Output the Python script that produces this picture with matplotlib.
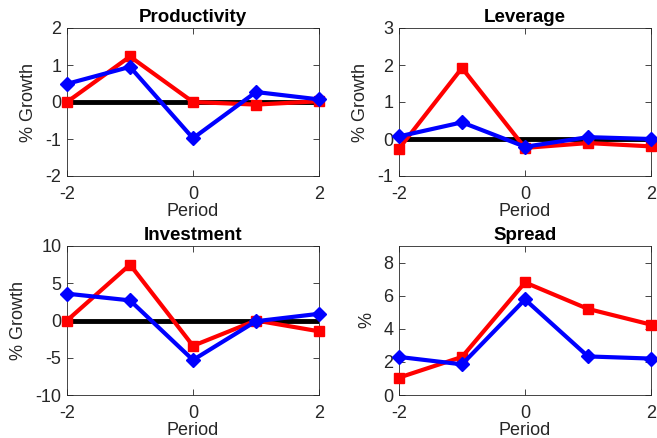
import matplotlib
matplotlib.use('Agg')
import matplotlib.pyplot as plt
import numpy as np

plt.rcParams['font.family'] = ['Liberation Sans', 'DejaVu Sans']
plt.rcParams['axes.unicode_minus'] = False

period = [-2, -1, 0, 1, 2]

titles = ['Productivity', 'Leverage', 'Investment', 'Spread']
ylabels = ['% Growth', '% Growth', '% Growth', '%']

red_prod = [0.0, 1.23, 0.0, -0.07, 0.02]
blue_prod = [0.49, 0.95, -0.98, 0.27, 0.07]

red_lev = [-0.26, 1.92, -0.24, -0.11, -0.2]
blue_lev = [0.07, 0.45, -0.21, 0.05, 0.0]

red_inv = [0.0, 7.5, -3.4, 0.0, -1.45]
blue_inv = [3.6, 2.7, -5.3, -0.1, 0.9]

red_spr = [1.05, 2.3, 6.8, 5.2, 4.25]
blue_spr = [2.3, 1.85, 5.77, 2.33, 2.2]

red_list = [red_prod, red_lev, red_inv, red_spr]
blue_list = [blue_prod, blue_lev, blue_inv, blue_spr]

ylims = [(-2, 2), (-1, 3), (-10, 10), (0, 9)]
yticks = [[-2, -1, 0, 1, 2], [-1, 0, 1, 2, 3], [-10, -5, 0, 5, 10], [0, 2, 4, 6, 8]]
zero_line = [True, True, True, False]

W, H = 657, 438
fig = plt.figure(figsize=(W / 100, H / 100), dpi=100)

# axes boxes in pixels: left, top, right, bottom
boxes = [(67, 28, 319, 176), (399, 28, 651, 176),
         (67, 246, 319, 395), (399, 246, 651, 395)]

axcol = '#262626'

for i in range(4):
    l, t, r, b = boxes[i]
    ax = fig.add_axes([l / W, 1 - b / H, (r - l) / W, (b - t) / H])

    if zero_line[i]:
        ax.plot([-2, 2], [0, 0], color='k', lw=3.5, zorder=2)
    ax.plot(period, red_list[i], '-s', color='#ff0000', lw=3, ms=7, zorder=3,
            clip_on=False)
    ax.plot(period, blue_list[i], '-D', color='#0000ff', lw=3, ms=7, zorder=4,
            clip_on=False)

    ax.set_xlim(-2, 2)
    ax.set_ylim(*ylims[i])
    ax.set_xticks([-2, 0, 2])
    ax.set_yticks(yticks[i])
    ax.tick_params(direction='in', top=True, right=True, length=4, width=0.6,
                   labelsize=13, colors=axcol)
    ax.tick_params(axis='x', pad=7)
    ax.tick_params(axis='y', pad=4)
    for sp in ax.spines.values():
        sp.set_color(axcol)
        sp.set_linewidth(0.6)

    ax.set_title(titles[i], fontsize=13.5, fontweight='bold', pad=4)
    ax.set_xlabel('Period', fontsize=13, color=axcol, labelpad=0)
    ax.set_ylabel(ylabels[i], fontsize=13, color=axcol, labelpad=6)

fig.savefig('out.png', dpi=100)
